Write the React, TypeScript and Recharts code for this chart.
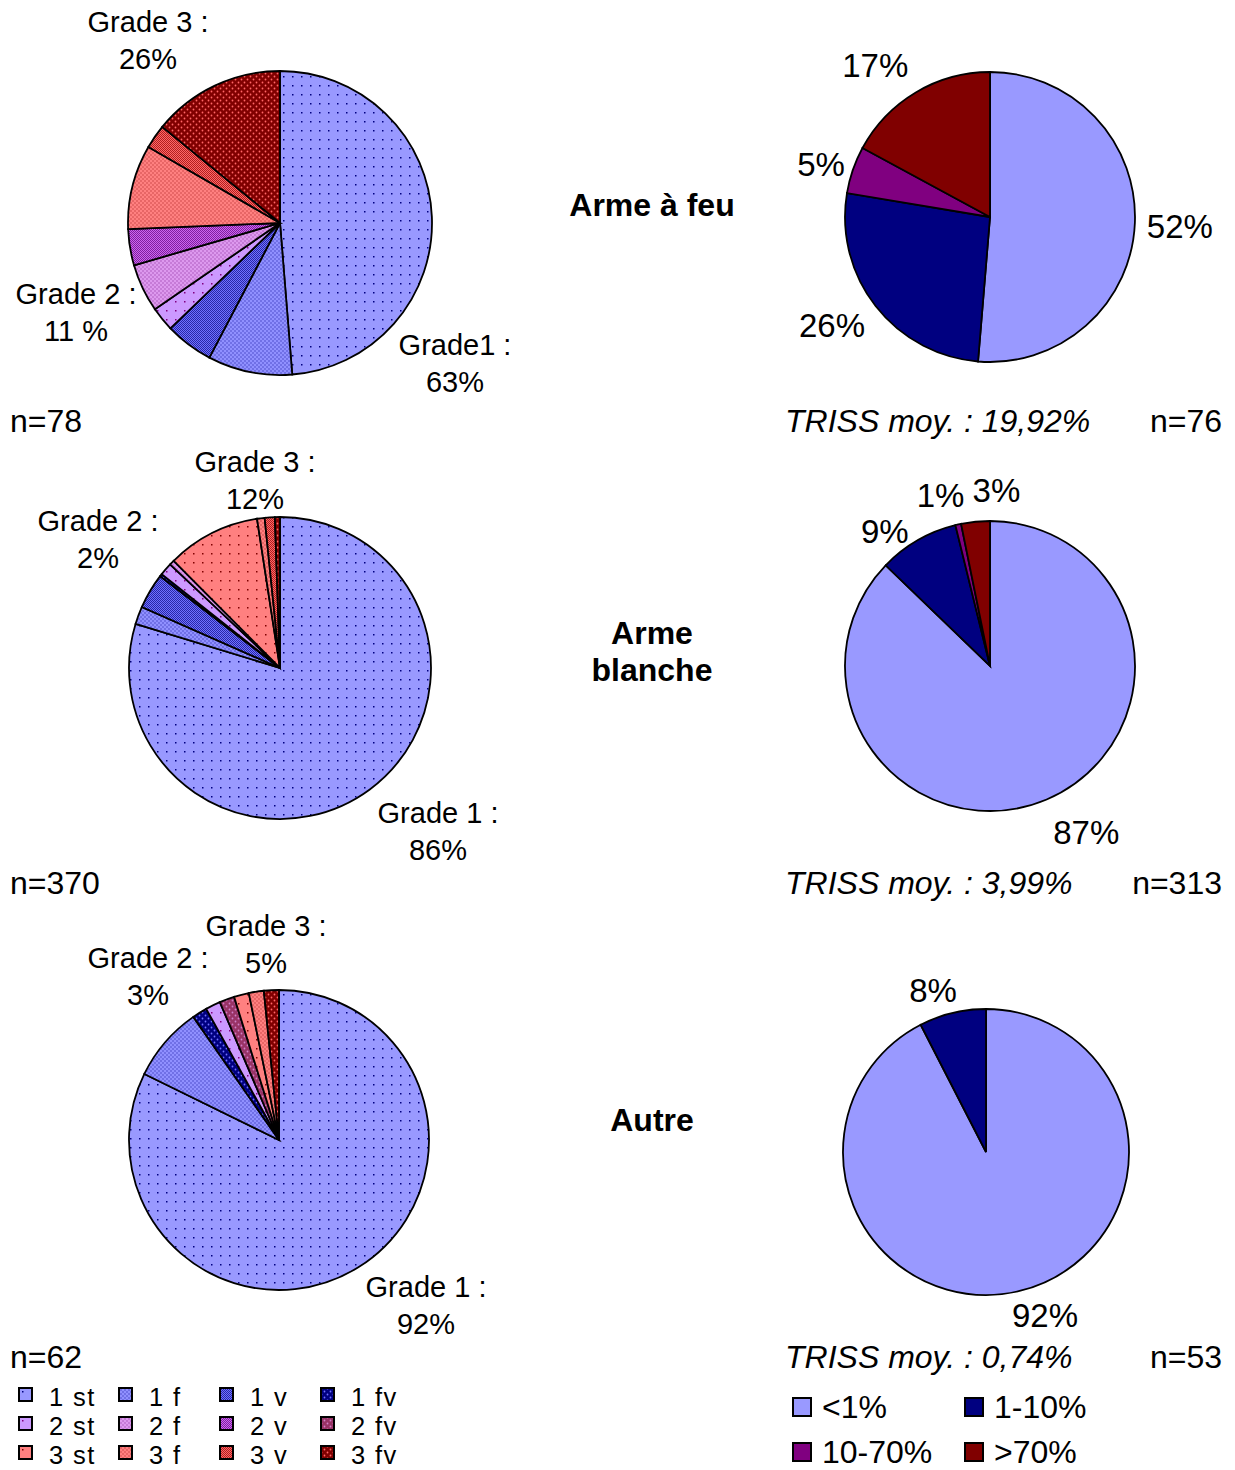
import { PieChart, Pie, Cell } from "recharts";

const FONT = "Arial, 'Liberation Sans', Helvetica, sans-serif";
const FS = 29; // grade notes
const FS_BIG = 32; // headings, n=, TRISS, right legend
const FS_PCT = 33; // percentages around the right pies

// injury grade categories (left pies), read clockwise from 12 o'clock
const GRADE_KEYS = ["1st", "1f", "1v", "1fv", "2st", "2f", "2v", "2fv", "3st", "3f", "3v", "3fv"];
const GRADE_NAMES = ["1 st", "1 f", "1 v", "1 fv", "2 st", "2 f", "2 v", "2 fv", "3 st", "3 f", "3 v", "3 fv"];

const GRADES_FEU = [38, 7, 4, 0, 2, 4, 3, 0, 0, 7, 2, 11];
const GRADES_BLANCHE = [295, 7, 14, 1, 5, 2, 0, 0, 37, 3, 4, 2];
const GRADES_AUTRE = [51, 5, 0, 1, 1, 0, 0, 1, 1, 1, 0, 1];

// TRISS classes (right pies)
const TRISS_KEYS = ["lt1", "1to10", "10to70", "gt70"];
const TRISS_NAMES = ["<1%", "1-10%", "10-70%", ">70%"];
const TRISS_COLORS = ["#9999ff", "#000080", "#800080", "#800000"];

const TRISS_FEU = [39, 20, 4, 13];
const TRISS_FEU_PCT = ["52%", "26%", "5%", "17%"];
const TRISS_BLANCHE = [273, 28, 2, 10];
const TRISS_BLANCHE_PCT = ["87%", "9%", "1%", "3%"];
const TRISS_AUTRE = [49, 4, 0, 0];
const TRISS_AUTRE_PCT = ["92%", "8%", "", ""];

type Kind = "st" | "f" | "v" | "fv";
const GRADE_STYLE: Record<string, { kind: Kind; base: string; dot: string }> = {
  "1st": { kind: "st", base: "#9999ff", dot: "#000080" },
  "1f": { kind: "f", base: "#9090ff", dot: "#4848c8" },
  "1v": { kind: "v", base: "#7070ff", dot: "#2828a8" },
  "1fv": { kind: "fv", base: "#000080", dot: "#7070ff" },
  "2st": { kind: "st", base: "#cc99ff", dot: "#800080" },
  "2f": { kind: "f", base: "#dd99ee", dot: "#aa55bb" },
  "2v": { kind: "v", base: "#cc66ee", dot: "#8020a0" },
  "2fv": { kind: "fv", base: "#993366", dot: "#d080c8" },
  "3st": { kind: "st", base: "#ff8080", dot: "#800000" },
  "3f": { kind: "f", base: "#ff8080", dot: "#cc4444" },
  "3v": { kind: "v", base: "#ff6666", dot: "#b02020" },
  "3fv": { kind: "fv", base: "#800000", dot: "#ff6666" },
};

function Pattern({ id, kind, base, dot }: { id: string; kind: Kind; base: string; dot: string }) {
  if (kind === "st") {
    return (
      <pattern id={id} width={9} height={9} patternUnits="userSpaceOnUse">
        <rect width={9} height={9} fill={base} />
        <rect x={4} y={4} width={1.5} height={1.5} fill={dot} />
      </pattern>
    );
  }
  if (kind === "f") {
    return (
      <pattern id={id} width={4} height={4} patternUnits="userSpaceOnUse">
        <rect width={4} height={4} fill={base} />
        <circle cx={1} cy={1} r={0.8} fill={dot} />
        <circle cx={3} cy={3} r={0.8} fill={dot} />
      </pattern>
    );
  }
  if (kind === "v") {
    return (
      <pattern id={id} width={2} height={2} patternUnits="userSpaceOnUse">
        <rect width={2} height={2} fill={base} />
        <rect width={1} height={1} fill={dot} />
        <rect x={1} y={1} width={1} height={1} fill={dot} />
      </pattern>
    );
  }
  return (
    <pattern id={id} width={6} height={6} patternUnits="userSpaceOnUse">
      <rect width={6} height={6} fill={base} />
      <circle cx={1.5} cy={1.5} r={0.9} fill={dot} />
      <circle cx={4.5} cy={4.5} r={0.9} fill={dot} />
    </pattern>
  );
}

function PatternDefs() {
  return (
    <svg width={0} height={0} style={{ position: "absolute" }}>
      <defs>
        {GRADE_KEYS.map((k) => (
          <Pattern key={k} id={`pat-${k}`} {...GRADE_STYLE[k]} />
        ))}
      </defs>
    </svg>
  );
}

const gradeData = (values: number[]) =>
  GRADE_KEYS.map((key, i) => ({ key, name: GRADE_NAMES[i], value: values[i] })).filter((d) => d.value > 0);

const trissData = (values: number[], pct: string[]) =>
  TRISS_KEYS.map((key, i) => ({ key, name: TRISS_NAMES[i], value: values[i], pct: pct[i], color: TRISS_COLORS[i] })).filter(
    (d) => d.value > 0,
  );

const LEFT_PIES = [
  { id: "g-feu", values: GRADES_FEU, cx: 280, cy: 223, r: 152 },
  { id: "g-blanche", values: GRADES_BLANCHE, cx: 280, cy: 668, r: 151 },
  { id: "g-autre", values: GRADES_AUTRE, cx: 279, cy: 1140, r: 150 },
];

const RIGHT_PIES = [
  { id: "t-feu", values: TRISS_FEU, pct: TRISS_FEU_PCT, cx: 990, cy: 217, r: 145, nudge: [[5, 2], [-12, -5], [6, 8], [-20, 7]] },
  { id: "t-blanche", values: TRISS_BLANCHE, pct: TRISS_BLANCHE_PCT, cx: 990, cy: 666, r: 145, nudge: [[24, -4], [-13, 26], [-9, 10], [25, 9]] },
  { id: "t-autre", values: TRISS_AUTRE, pct: TRISS_AUTRE_PCT, cx: 986, cy: 1152, r: 143, nudge: [[16, -14], [-10, 16]] },
];

const RAD = Math.PI / 180;

const trissLabel = (nudge: number[][]) => (props: any) => {
  const { cx, cy, midAngle, outerRadius, index } = props;
  const pct = props.pct ?? props.payload?.pct;
  const r = outerRadius + 40;
  const [dx, dy] = nudge[index] ?? [0, 0];
  const x = cx + r * Math.cos(-midAngle * RAD) + dx;
  const y = cy + r * Math.sin(-midAngle * RAD) + dy;
  return (
    <text x={x} y={y} textAnchor="middle" dominantBaseline="central" fontSize={FS_PCT} fontFamily={FONT} fill="#000">
      {pct}
    </text>
  );
};

// grade annotations next to the left pies (two lines each)
const GRADE_NOTES = [
  { lines: ["Grade 3 :", "26%"], x: 148, y: 22 },
  { lines: ["Grade 2 :", "11 %"], x: 76, y: 294 },
  { lines: ["Grade1 :", "63%"], x: 455, y: 345 },
  { lines: ["Grade 3 :", "12%"], x: 255, y: 462 },
  { lines: ["Grade 2 :", "2%"], x: 98, y: 521 },
  { lines: ["Grade 1 :", "86%"], x: 438, y: 813 },
  { lines: ["Grade 3 :", "5%"], x: 266, y: 926 },
  { lines: ["Grade 2 :", "3%"], x: 148, y: 958 },
  { lines: ["Grade 1 :", "92%"], x: 426, y: 1287 },
];

const ROWS = [
  { y: 421, n: "n=78", triss: "TRISS moy. : 19,92%", nRight: "n=76" },
  { y: 883, n: "n=370", triss: "TRISS moy. : 3,99%", nRight: "n=313" },
  { y: 1357, n: "n=62", triss: "TRISS moy. : 0,74%", nRight: "n=53" },
];

const MIDDLE = [
  { lines: ["Arme à feu"], y: 205 },
  { lines: ["Arme", "blanche"], y: 633 },
  { lines: ["Autre"], y: 1120 },
];

function Txt({
  x,
  y,
  children,
  size = FS,
  lh,
  spacing = 0,
  align = "center",
  bold = false,
  italic = false,
}: {
  x: number;
  y: number;
  children: any;
  size?: number;
  lh?: number;
  spacing?: number;
  align?: "left" | "center" | "right";
  bold?: boolean;
  italic?: boolean;
}) {
  const tx = align === "center" ? "-50%" : align === "right" ? "-100%" : "0";
  const line = lh ?? size;
  return (
    <div
      style={{
        position: "absolute",
        left: x,
        top: y - line / 2,
        height: line,
        lineHeight: `${line}px`,
        fontSize: size,
        letterSpacing: spacing,
        fontFamily: FONT,
        fontWeight: bold ? 700 : 400,
        fontStyle: italic ? "italic" : "normal",
        transform: `translateX(${tx})`,
        whiteSpace: "nowrap",
        color: "#000",
      }}
    >
      {children}
    </div>
  );
}

function Swatch({ x, y, size, fill }: { x: number; y: number; size: number; fill: string }) {
  return (
    <svg width={size + 2} height={size + 2} style={{ position: "absolute", left: x - 1, top: y - size / 2 - 1 }}>
      <rect x={1} y={1} width={size} height={size} fill={fill} stroke="#000" strokeWidth={2} />
    </svg>
  );
}

const GRADE_LEGEND_ROWS = [1397, 1426, 1455];
const GRADE_LEGEND_COLS = [19, 119, 220, 321];
const TRISS_LEGEND_ROWS = [1407, 1452];
const TRISS_LEGEND_COLS = [793, 965];

export default function App() {
  return (
    <div style={{ position: "absolute", left: 0, top: 0, width: 1235, height: 1470, background: "#fff" }}>
      <PatternDefs />
      <PieChart width={1235} height={1470} margin={{ top: 0, right: 0, bottom: 0, left: 0 }}>
        {LEFT_PIES.map((p) => {
          const data = gradeData(p.values);
          return (
            <Pie
              key={p.id}
              data={data}
              dataKey="value"
              nameKey="name"
              cx={p.cx}
              cy={p.cy}
              outerRadius={p.r}
              startAngle={90}
              endAngle={-270}
              stroke="#000"
              strokeWidth={1.8}
              isAnimationActive={false}
            >
              {data.map((d) => (
                <Cell key={d.key} fill={`url(#pat-${d.key})`} />
              ))}
            </Pie>
          );
        })}
        {RIGHT_PIES.map((p) => {
          const data = trissData(p.values, p.pct);
          return (
            <Pie
              key={p.id}
              data={data}
              dataKey="value"
              nameKey="name"
              cx={p.cx}
              cy={p.cy}
              outerRadius={p.r}
              startAngle={90}
              endAngle={-270}
              stroke="#000"
              strokeWidth={1.8}
              label={trissLabel(p.nudge)}
              labelLine={false}
              isAnimationActive={false}
            >
              {data.map((d) => (
                <Cell key={d.key} fill={d.color} />
              ))}
            </Pie>
          );
        })}
      </PieChart>

      {GRADE_NOTES.map((g, i) =>
        g.lines.map((line, j) => (
          <Txt key={`${i}-${j}`} x={g.x} y={g.y + j * 37}>
            {line}
          </Txt>
        )),
      )}

      {ROWS.map((r) => (
        <div key={r.n}>
          <Txt x={10} y={r.y} size={FS_BIG} align="left">
            {r.n}
          </Txt>
          <Txt x={785} y={r.y} size={FS_BIG} align="left" italic>
            {r.triss}
          </Txt>
          <Txt x={1222} y={r.y} size={FS_BIG} align="right">
            {r.nRight}
          </Txt>
        </div>
      ))}

      {MIDDLE.map((m) =>
        m.lines.map((line, j) => (
          <Txt key={line} x={652} y={m.y + j * 37} size={FS_BIG} bold>
            {line}
          </Txt>
        )),
      )}

      {GRADE_KEYS.map((k, i) => {
        const row = Math.floor(i / 4);
        const col = i % 4;
        const y = GRADE_LEGEND_ROWS[row];
        const x = GRADE_LEGEND_COLS[col];
        return (
          <div key={k}>
            <Swatch x={x} y={y - 3} size={13} fill={`url(#pat-${k})`} />
            <Txt x={x + 30} y={y} size={25.5} lh={24} spacing={1.4} align="left">
              {GRADE_NAMES[i]}
            </Txt>
          </div>
        );
      })}

      {TRISS_KEYS.map((k, i) => {
        const row = Math.floor(i / 2);
        const col = i % 2;
        const y = TRISS_LEGEND_ROWS[row];
        const x = TRISS_LEGEND_COLS[col];
        return (
          <div key={k}>
            <Swatch x={x} y={y} size={18} fill={TRISS_COLORS[i]} />
            <Txt x={x + 29} y={y} size={FS_BIG} align="left">
              {TRISS_NAMES[i]}
            </Txt>
          </div>
        );
      })}
    </div>
  );
}
